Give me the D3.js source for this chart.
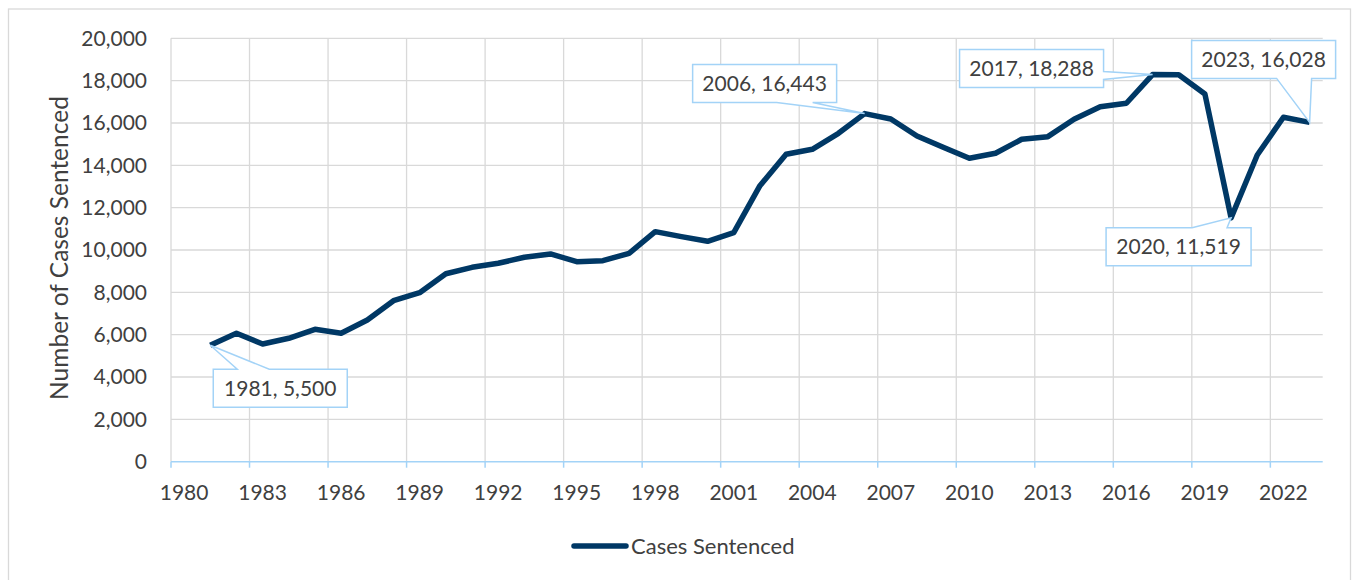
<!DOCTYPE html>
<html lang="en">
<head>
	<meta charset="utf-8">
	<title>Cases Sentenced</title>
	<script src="https://cdn.jsdelivr.net/npm/d3@7"></script>
	<style>
	body {
	  margin: 0;
	  background: #fff;
	}
	text {
	  font-family: Lato, "Open Sans", sans-serif;
	  fill: #404040;
	}
	.grid line {
	  stroke: #d9d9d9;
	  stroke-width: 1.3px;
	}
	.axis .domain {
	  display: none;
	}
	</style>
</head>
<body>
	<script>
		// categories on the x axis (1980 has no value)
		var years = [1980, 1981, 1982, 1983, 1984, 1985, 1986, 1987, 1988, 1989,
		             1990, 1991, 1992, 1993, 1994, 1995, 1996, 1997, 1998, 1999,
		             2000, 2001, 2002, 2003, 2004, 2005, 2006, 2007, 2008, 2009,
		             2010, 2011, 2012, 2013, 2014, 2015, 2016, 2017, 2018, 2019,
		             2020, 2021, 2022, 2023];

		// cases sentenced, 1981 - 2023
		var caseYears = [1981, 1982, 1983, 1984, 1985, 1986, 1987, 1988, 1989, 1990,
		                 1991, 1992, 1993, 1994, 1995, 1996, 1997, 1998, 1999, 2000,
		                 2001, 2002, 2003, 2004, 2005, 2006, 2007, 2008, 2009, 2010,
		                 2011, 2012, 2013, 2014, 2015, 2016, 2017, 2018, 2019, 2020,
		                 2021, 2022, 2023];
		var cases = [5500, 6065, 5560, 5830, 6255, 6065, 6694, 7606, 7984, 8880,
		             9183, 9372, 9655, 9812, 9449, 9496, 9845, 10866, 10630, 10410,
		             10819, 13040, 14521, 14757, 15513, 16443, 16189, 15386, 14851, 14332,
		             14568, 15230, 15354, 16175, 16771, 16931, 18288, 18280, 17370, 11519,
		             14489, 16269, 16028];

		var xTickYears = [1980, 1983, 1986, 1989, 1992, 1995, 1998, 2001, 2004, 2007,
		                  2010, 2013, 2016, 2019, 2022];
		var yTicks = [0, 2000, 4000, 6000, 8000, 10000, 12000, 14000, 16000, 18000, 20000];

		// years that get a data callout
		var calloutYears = [1981, 2006, 2017, 2020, 2023];

		var w = 1353;
		var h = 580;

		var svg = d3.select("body")
					.append("svg")
					.attr("width", w)
					.attr("height", h);

		// chart border
		svg.append("rect")
			.attr("x", 8.5)
			.attr("y", 9)
			.attr("width", 1342)
			.attr("height", 600)
			.attr("fill", "none")
			.attr("stroke", "#d9d9d9")
			.attr("stroke-width", 1.3);

		var plotLeft = 171, plotRight = 1322.7, plotTop = 38.3, plotBottom = 461.7;

		var x = d3.scaleBand()
				  .domain(years)
				  .range([plotLeft, plotRight])
				  .padding(0);

		var y = d3.scaleLinear()
				  .domain([0, 20000])
				  .range([plotBottom, plotTop]);

		function cx(yr) { return x(yr) + x.bandwidth() / 2; }

		// horizontal gridlines
		svg.append("g")
			.attr("class", "grid")
			.selectAll("line")
			.data(yTicks.slice(1))
			.enter().append("line")
			  .attr("x1", plotLeft)
			  .attr("x2", plotRight)
			  .attr("y1", function(d) { return y(d); })
			  .attr("y2", function(d) { return y(d); });

		// vertical gridlines at category boundaries
		svg.append("g")
			.attr("class", "grid")
			.selectAll("line")
			.data(xTickYears)
			.enter().append("line")
			  .attr("x1", function(d) { return x(d); })
			  .attr("x2", function(d) { return x(d); })
			  .attr("y1", plotTop)
			  .attr("y2", plotBottom);

		// x axis line and tick marks
		var axisColor = "#a3d3f7";
		svg.append("line")
			.attr("x1", plotLeft)
			.attr("x2", plotRight)
			.attr("y1", plotBottom)
			.attr("y2", plotBottom)
			.attr("stroke", axisColor)
			.attr("stroke-width", 1.5);

		svg.append("g")
			.selectAll("line")
			.data(xTickYears)
			.enter().append("line")
			  .attr("x1", function(d) { return x(d); })
			  .attr("x2", function(d) { return x(d); })
			  .attr("y1", plotBottom)
			  .attr("y2", plotBottom + 6)
			  .attr("stroke", axisColor)
			  .attr("stroke-width", 1.5);

		// y axis labels
		svg.append("g")
			.attr("class", "axis")
			.attr("transform", "translate(" + (plotLeft - 24) + ",0)")
			.call(d3.axisLeft(y).tickValues(yTicks).tickSize(0).tickPadding(0).tickFormat(d3.format(",")))
			.call(function(g) {
				g.selectAll("text").style("font-size", "21px").style("font-family", "Lato").attr("fill", "#404040");
			});

		// x axis labels, centred on the category
		svg.append("g")
			.attr("class", "axis")
			.attr("transform", "translate(0," + plotBottom + ")")
			.call(d3.axisBottom(x).tickValues(xTickYears).tickSize(0).tickPadding(23.5))
			.call(function(g) {
				g.selectAll("text").style("font-size", "21px").style("font-family", "Lato").attr("fill", "#404040");
			});

		// y axis title
		svg.append("text")
			.attr("transform", "translate(68," + ((plotTop + plotBottom) / 2 - 2) + ") rotate(-90)")
			.attr("text-anchor", "middle")
			.style("font-size", "24.5px")
			.text("Number of Cases Sentenced");

		// the line
		var lineColor = "#003865";
		var line = d3.line()
					 .x(function(d, i) { return cx(caseYears[i]); })
					 .y(function(d) { return y(d); });

		svg.append("path")
			.datum(cases)
			.attr("d", line)
			.attr("fill", "none")
			.attr("stroke", lineColor)
			.attr("stroke-width", 5.5)
			.attr("stroke-linejoin", "round");

		// callout boxes: box offset from the point, side the wedge leaves from, wedge base along that side
		var calloutLayout = {
			1981: { dx: 3,    dy: 24,   w: 134, side: "top",    a: 24,  b: 56 },
			2006: { dx: -172, dy: -49,  w: 144, side: "bottom", a: 84,  b: 120 },
			2017: { dx: -193, dy: -25,  w: 144, side: "right",  a: 22,  b: 30 },
			2020: { dx: -125, dy: 10,   w: 145, side: "top",    a: 86,  b: 121 },
			2023: { dx: -118, dy: -82,  w: 144, side: "bottom", a: 85,  b: 120 }
		};
		var boxH = 38;

		function calloutPath(px, py, bx, by, bw, bh, side, a, b) {
			var p = d3.path();
			if (side === "top") {
				p.moveTo(bx, by); p.lineTo(bx + a, by); p.lineTo(px, py); p.lineTo(bx + b, by);
				p.lineTo(bx + bw, by); p.lineTo(bx + bw, by + bh); p.lineTo(bx, by + bh);
			} else if (side === "bottom") {
				p.moveTo(bx, by); p.lineTo(bx + bw, by); p.lineTo(bx + bw, by + bh);
				p.lineTo(bx + b, by + bh); p.lineTo(px, py); p.lineTo(bx + a, by + bh); p.lineTo(bx, by + bh);
			} else {
				p.moveTo(bx, by); p.lineTo(bx + bw, by); p.lineTo(bx + bw, by + a); p.lineTo(px, py);
				p.lineTo(bx + bw, by + b); p.lineTo(bx + bw, by + bh); p.lineTo(bx, by + bh);
			}
			p.closePath();
			return p.toString();
		}

		var fmt = d3.format(",");
		var callouts = svg.append("g")
			.selectAll("g")
			.data(calloutYears)
			.enter().append("g");

		callouts.append("path")
			.attr("d", function(yr) {
				var c = calloutLayout[yr];
				var px = cx(yr), py = y(cases[caseYears.indexOf(yr)]);
				return calloutPath(px, py, px + c.dx, py + c.dy, c.w, boxH, c.side, c.a, c.b);
			})
			.attr("fill", "#fff")
			.attr("stroke", axisColor)
			.attr("stroke-width", 1.5);

		callouts.append("text")
			.attr("x", function(yr) { var c = calloutLayout[yr]; return cx(yr) + c.dx + c.w / 2; })
			.attr("y", function(yr) { var c = calloutLayout[yr]; return y(cases[caseYears.indexOf(yr)]) + c.dy + boxH / 2 + 7.5; })
			.attr("text-anchor", "middle")
			.style("font-size", "21px")
			.text(function(yr) { return yr + ", " + fmt(cases[caseYears.indexOf(yr)]); });

		// legend
		svg.append("line")
			.attr("x1", 574)
			.attr("x2", 626)
			.attr("y1", 546)
			.attr("y2", 546)
			.attr("stroke", lineColor)
			.attr("stroke-width", 5.5)
			.attr("stroke-linecap", "round");

		svg.append("text")
			.attr("x", 631)
			.attr("y", 553.5)
			.style("font-size", "22px")
			.text("Cases Sentenced");

	</script>
</body>
</html>
